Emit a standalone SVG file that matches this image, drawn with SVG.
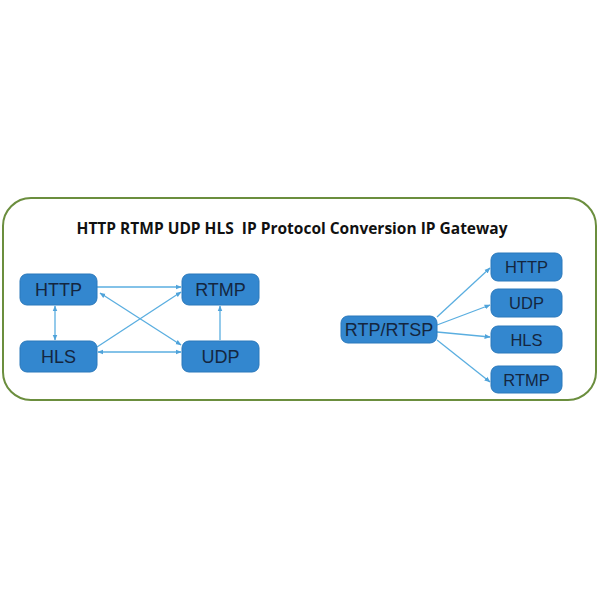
<svg xmlns="http://www.w3.org/2000/svg" width="600" height="600" viewBox="0 0 600 600">
<style>
.node rect{fill:#3387cf;stroke:#2a78bb;stroke-width:1}
.node text{font-family:"Liberation Sans",Arial,sans-serif;fill:#14263f;text-anchor:middle}
.big text{font-size:18px}
.small text{font-size:16.5px}
.conn line{stroke:#5aaee0;stroke-width:1.3;fill:none}
</style>
<defs>
<marker id="ah" viewBox="0 0 10 10" refX="9" refY="5" markerWidth="6" markerHeight="6" orient="auto-start-reverse" markerUnits="userSpaceOnUse">
<path d="M0,1 L10,5 L0,9 z" fill="#4fa3da"/>
</marker>
</defs>
<rect width="600" height="600" fill="#ffffff"/>
<rect id="frame" x="3" y="198" width="593" height="202" rx="28" ry="28" fill="#ffffff" stroke="#6b8e3e" stroke-width="2"/>
<text x="292" y="234" font-family="'Open Sans','Noto Sans',sans-serif" font-weight="bold" font-size="15.5" fill="#111111" text-anchor="middle" style="white-space:pre" xml:space="preserve">HTTP RTMP UDP HLS  IP Protocol Conversion IP Gateway</text>
<g class="conn">
<line x1="97" y1="287" x2="181" y2="287" marker-end="url(#ah)"/>
<line x1="55" y1="306" x2="55" y2="340" marker-start="url(#ah)" marker-end="url(#ah)"/>
<line x1="98" y1="352" x2="181" y2="352" marker-start="url(#ah)" marker-end="url(#ah)"/>
<line x1="220" y1="340" x2="220" y2="306" marker-end="url(#ah)"/>
<line x1="100" y1="293" x2="181" y2="345" marker-start="url(#ah)" marker-end="url(#ah)"/>
<line x1="97" y1="347" x2="181" y2="292" marker-end="url(#ah)"/>
<line x1="437" y1="317" x2="490" y2="268" marker-end="url(#ah)"/>
<line x1="437" y1="325" x2="490" y2="305" marker-end="url(#ah)"/>
<line x1="437" y1="332" x2="490" y2="337" marker-end="url(#ah)"/>
<line x1="437" y1="340" x2="490" y2="382" marker-end="url(#ah)"/>
</g>
<g id="n-http" class="node big"><rect x="20" y="274" width="77" height="31" rx="7"/><text x="58.5" y="296">HTTP</text></g>
<g id="n-rtmp" class="node big"><rect x="182" y="274" width="77" height="31" rx="7"/><text x="220.5" y="296">RTMP</text></g>
<g id="n-hls" class="node big"><rect x="20" y="341" width="77" height="31" rx="7"/><text x="58.5" y="363">HLS</text></g>
<g id="n-udp" class="node big"><rect x="182" y="341" width="77" height="31" rx="7"/><text x="220.5" y="363">UDP</text></g>
<g id="n-rtp" class="node big"><rect x="341" y="316" width="96" height="27" rx="7"/><text x="389" y="336">RTP/RTSP</text></g>
<g id="n-http2" class="node small"><rect x="491" y="253" width="71" height="28" rx="7"/><text x="526.5" y="273">HTTP</text></g>
<g id="n-udp2" class="node small"><rect x="491" y="289" width="71" height="28" rx="7"/><text x="526.5" y="309">UDP</text></g>
<g id="n-hls2" class="node small"><rect x="491" y="326" width="71" height="27" rx="7"/><text x="526.5" y="345.5">HLS</text></g>
<g id="n-rtmp2" class="node small"><rect x="491" y="366" width="71" height="27" rx="7"/><text x="526.5" y="385.5">RTMP</text></g>
</svg>
